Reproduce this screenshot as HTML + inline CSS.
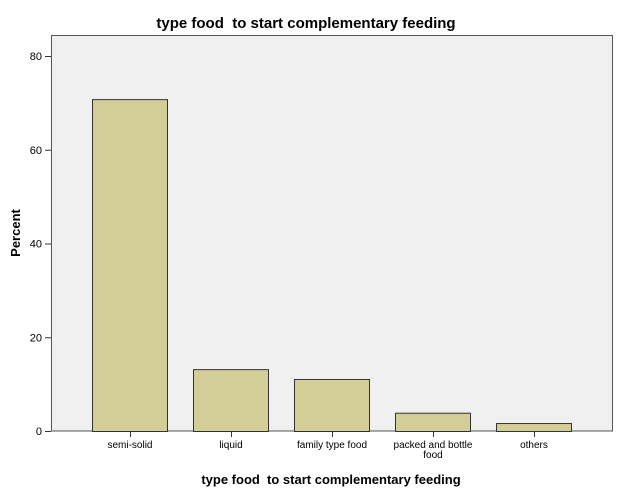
<!DOCTYPE html>
<html><head><meta charset="utf-8"><style>
body{margin:0;background:#fff;font-family:"Liberation Sans",Arial,sans-serif}
svg{display:block}
svg text{white-space:pre}
</style></head><body>
<svg id="c" width="619" height="501">
<text x="306" y="28" text-anchor="middle" font-size="15" font-weight="bold">type food  to start complementary feeding</text>
<rect x="51.5" y="35.5" width="561" height="395.5" fill="#f0f0f0" stroke="#555"/>
<g id="yax"></g><g id="bars"></g><g id="xax"></g>
<text x="20" y="233" text-anchor="middle" font-size="13" font-weight="bold" transform="rotate(-90 20 233)">Percent</text>
<text x="331" y="484" text-anchor="middle" font-size="13" font-weight="bold">type food  to start complementary feeding</text>
</svg>
<script>
const categories=[["semi-solid"],["liquid"],["family type food"],["packed and bottle","food"],["others"]];
const values=[70.8,13.2,11.1,3.9,1.7];
const yTicks=[0,20,40,60,80];
const NS="http://www.w3.org/2000/svg";
function y(v){return 431-v*375/80;}
function xc(i){return 130+i*101;}
function mk(t,a,p){const e=document.createElementNS(NS,t);for(const k in a)e.setAttribute(k,a[k]);p.appendChild(e);return e;}
const ya=document.getElementById('yax'),ba=document.getElementById('bars'),xa=document.getElementById('xax');
yTicks.forEach(v=>{
 const l=mk('line',{x1:45,x2:51,y1:y(v)+.5,y2:y(v)+.5,stroke:'#333'},ya);
 
 
 const t=mk('text',{x:42,y:y(v)+4,'text-anchor':'end','font-size':11},ya);
 t.textContent=v;
 
 
});
values.forEach((v,i)=>{
 const r=mk('rect',{x:xc(i)-37.5,y:y(v)+.5,width:75,height:431-y(v),fill:'#d3ce98',stroke:'#333'},ba);
 
 
 const l=mk('line',{x1:xc(i)+.5,x2:xc(i)+.5,y1:431,y2:437,stroke:'#333'},xa);
 
 
 categories[i].forEach((s,j)=>{
  const t=mk('text',{x:xc(i),y:448+j*10,'text-anchor':'middle','font-size':10},xa);
  t.textContent=s;
  
  
 });
});
</script>
</body></html>
